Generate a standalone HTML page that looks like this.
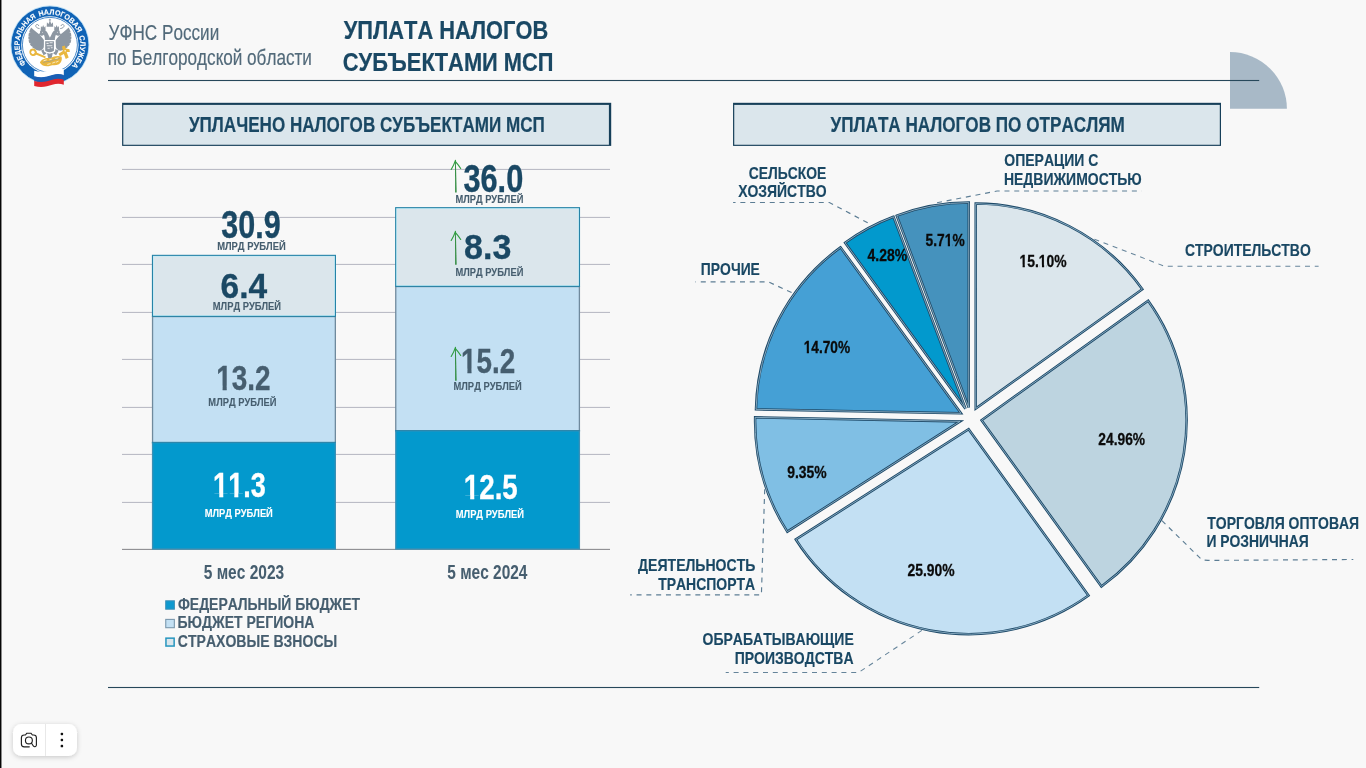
<!DOCTYPE html>
<html lang="ru"><head><meta charset="utf-8"><title>Уплата налогов субъектами МСП</title>
<style>html,body{margin:0;padding:0;background:#f8f8f8;overflow:hidden}body{width:1366px;height:768px;position:relative}svg{display:block;position:absolute;left:0;top:0}text{font-family:"Liberation Sans",sans-serif;font-kerning:none;white-space:pre}</style>
</head><body>
<svg width="1366" height="768" viewBox="0 0 1366 768">
<rect width="1366" height="768" fill="#f8f8f8"/>
<rect x="0" y="0" width="1.45" height="768" fill="#060606"/>
<g id="header">
<path d="M1230 108.8 L1230 52.1 A56.9 56.7 0 0 1 1286.9 108.8 Z" fill="#a8b9c7"/>
<rect x="108" y="79.95" width="1151.2" height="1.1" fill="#27485b"/>
<rect x="108" y="686.95" width="1151.2" height="1.1" fill="#27485b"/>
<text transform="translate(108.54 39.65) scale(0.8051 1)" font-size="21.3" font-weight="400" fill="#526a7a" stroke="#526a7a" stroke-width="0.17">УФНС России</text>
<text transform="translate(107.81 64.65) scale(0.8057 1)" font-size="21.3" font-weight="400" fill="#526a7a" stroke="#526a7a" stroke-width="0.17">по Белгородской области</text>
<text transform="translate(343.69 39.00) scale(0.8212 1)" font-size="26.6" font-weight="700" fill="#1a4864" stroke="#1a4864" stroke-width="0.239">УПЛАТА НАЛОГОВ</text>
<text transform="translate(342.80 70.70) scale(0.8218 1)" font-size="26.6" font-weight="700" fill="#1a4864" stroke="#1a4864" stroke-width="0.239">СУБЪЕКТАМИ МСП</text>
</g>
<g id="logo">
<circle cx="49.9" cy="44.9" r="38.7" fill="#1063b6"/>
<circle cx="49.9" cy="44.9" r="39.0" fill="none" stroke="#7fc4f0" stroke-width="0.8" opacity="0.6"/>
<circle cx="49.9" cy="44.9" r="28.7" fill="#ffffff"/>
<circle cx="49.9" cy="44.9" r="27.5" fill="none" stroke="#1063b6" stroke-width="0.75"/>
<path id="arc0" d="M26.15 63.79 A30.35 30.35 0 0 1 36.12 17.86" fill="none"/>
<text font-size="7.5" font-weight="700" fill="#ffffff" stroke="#ffffff" stroke-width="0.12"><textPath href="#arc0" textLength="53.8" lengthAdjust="spacingAndGlyphs">ФЕДЕРАЛЬНАЯ</textPath></text>
<path id="arc1" d="M39.27 16.47 A30.35 30.35 0 0 1 77.63 32.56" fill="none"/>
<text font-size="7.5" font-weight="700" fill="#ffffff" stroke="#ffffff" stroke-width="0.12"><textPath href="#arc1" textLength="45.8" lengthAdjust="spacingAndGlyphs">НАЛОГОВАЯ</textPath></text>
<path id="arc2" d="M78.92 36.03 A30.35 30.35 0 0 1 71.73 65.98" fill="none"/>
<text font-size="7.5" font-weight="700" fill="#ffffff" stroke="#ffffff" stroke-width="0.12"><textPath href="#arc2" textLength="32.3" lengthAdjust="spacingAndGlyphs">СЛУЖБА</textPath></text>
<g transform="translate(22 14) scale(0.07294)">
<path d="M125 185 C95 235 78 300 92 370 C105 430 160 490 240 503 C270 500 292 480 300 455 L305 365 C285 330 240 280 200 250 C170 228 145 205 125 185 Z" fill="#8d97a2"/>
<path d="M125 185 C95 235 78 300 92 370 C105 430 160 490 240 503 C270 500 292 480 300 455 L305 365 C285 330 240 280 200 250 C170 228 145 205 125 185 Z" fill="#8d97a2" transform="translate(765 0) scale(-1 1)"/>
<path d="M84 244 L120 258 L88 260 Z" fill="#ffffff" opacity="0.85"/>
<path d="M681 244 L645 258 L677 260 Z" fill="#ffffff" opacity="0.85"/>
<path d="M74 294 L110 308 L78 310 Z" fill="#ffffff" opacity="0.85"/>
<path d="M691 294 L655 308 L687 310 Z" fill="#ffffff" opacity="0.85"/>
<path d="M76 344 L112 358 L80 360 Z" fill="#ffffff" opacity="0.85"/>
<path d="M689 344 L653 358 L685 360 Z" fill="#ffffff" opacity="0.85"/>
<path d="M90 394 L126 408 L94 410 Z" fill="#ffffff" opacity="0.85"/>
<path d="M675 394 L639 408 L671 410 Z" fill="#ffffff" opacity="0.85"/>
<path d="M118 439 L154 453 L122 455 Z" fill="#ffffff" opacity="0.85"/>
<path d="M647 439 L611 453 L643 455 Z" fill="#ffffff" opacity="0.85"/>
<path d="M158 472 L194 486 L162 488 Z" fill="#ffffff" opacity="0.85"/>
<path d="M607 472 L571 486 L603 488 Z" fill="#ffffff" opacity="0.85"/>
<path d="M300 285 C285 300 262 300 250 290 L224 280 L248 262 C240 232 262 212 290 214 C320 216 345 245 365 290 L383 325 L383 380 L312 380 C318 345 312 310 300 285 Z" fill="#8d97a2"/>
<path d="M300 285 C285 300 262 300 250 290 L224 280 L248 262 C240 232 262 212 290 214 C320 216 345 245 365 290 L383 325 L383 380 L312 380 C318 345 312 310 300 285 Z" fill="#8d97a2" transform="translate(765 0) scale(-1 1)"/>
<path d="M256 222 L260 166 L276 186 L290 150 L304 186 L320 166 L324 222 Z" fill="#8d97a2"/>
<path d="M256 222 L260 166 L276 186 L290 150 L304 186 L320 166 L324 222 Z" fill="#8d97a2" transform="translate(765 0) scale(-1 1)"/>
<path d="M338 176 L342 112 L362 138 L383 94 L404 138 L424 112 L428 176 Z" fill="#8d97a2"/>
<path d="M377 64 h12 v12 h10 v10 h-10 v16 h-12 v-16 h-10 v-10 h10 Z" fill="#8d97a2"/>
<path d="M383 196 C356 200 348 232 362 258 L383 292 L404 258 C418 232 410 200 383 196 Z" fill="#ffffff"/>
<circle cx="280" cy="250" r="6.5" fill="#ffffff"/><circle cx="485" cy="250" r="6.5" fill="#ffffff"/>
<path d="M236 200 C206 196 182 176 190 154 C198 136 226 140 230 160 M529 200 C559 196 583 176 575 154 C567 136 539 140 535 160" fill="none" stroke="#8d97a2" stroke-width="13" stroke-linecap="round"/>
<path d="M262 500 L322 478 L336 540 L296 566 Z M503 500 L443 478 L429 540 L469 566 Z M344 536 L422 536 L408 600 L383 618 L358 600 Z" fill="#8d97a2"/>
<path d="M300 355 H456 V505 C456 525 420 535 378 545 C336 535 300 525 300 505 Z" fill="#ffffff"/>
<path d="M318 372 H438 V500 C438 512 410 520 378 526 C346 520 318 512 318 500 Z" fill="#8d97a2"/>
<path d="M335 395 h30 v16 h-30 z M378 388 h42 v14 h-42 z M340 430 h76 v12 h-76 z M350 462 h30 v14 h-30 z M396 456 h24 v12 h-24 z" fill="#ffffff" opacity="0.8"/>
<path d="M150 474 C108 474 92 516 108 548 C124 580 170 586 196 560 L318 606 L326 582 L206 532 C200 498 182 474 150 474 Z" fill="#e9b73f"/>
<ellipse cx="150" cy="526" rx="23" ry="25" fill="#ffffff"/>
<path d="M548 446 L586 432 L600 474 L650 484 L656 522 L612 522 L640 596 L600 616 L574 548 L520 580 L500 545 L560 508 Z" fill="#e9b73f"/>
<circle cx="592" cy="505" r="11" fill="#ffffff" opacity="0.85"/>
<path d="M246 668 C262 618 330 596 392 606 C432 578 492 566 540 582 C556 616 540 664 506 690 C462 712 420 696 388 708 C338 724 274 716 246 668 Z" fill="#e9b73f"/>
<path d="M290 668 C330 640 372 664 410 640 C446 620 480 624 520 606" fill="none" stroke="#8d97a2" stroke-width="10" opacity="0.8"/>
<path d="M300 640 l34 -10 M352 690 l34 -8 M420 672 l32 -12 M462 610 l30 -8 M470 660 l26 -12 M380 626 l24 -6" stroke="#ffffff" stroke-width="11" opacity="0.85" fill="none" stroke-linecap="round"/>
</g>
<path d="M34.2 70.70 C41.2 73.00 47.2 71.20 52.2 69.60 C57.2 68.00 60.8 68.60 63.8 69.60 L63.8 75.50 C60.8 74.50 57.2 73.90 52.2 75.50 C47.2 77.10 41.2 78.90 34.2 76.60 Z" fill="#ffffff"/>
<path d="M34.2 76.20 C41.2 78.50 47.2 76.70 52.2 75.10 C57.2 73.50 60.8 74.10 63.8 75.10 L63.8 80.10 C60.8 79.10 57.2 78.50 52.2 80.10 C47.2 81.70 41.2 83.50 34.2 81.20 Z" fill="#1b5fb4"/>
<path d="M34.2 80.90 C41.2 83.20 47.2 81.40 52.2 79.80 C57.2 78.20 60.8 78.80 63.8 79.80 L63.8 84.80 C60.8 83.80 57.2 83.20 52.2 84.80 C47.2 86.40 41.2 88.20 34.2 85.90 Z" fill="#e0262e"/>
</g>
<g id="bars">
<rect x="122.1" y="102.8" width="489.10" height="43.1" fill="#163f59"/>
<rect x="123.3" y="104.9" width="485.60" height="39.85" fill="#dbe6ec"/>
<text transform="translate(188.89 131.80) scale(0.8066 1)" font-size="21.2" font-weight="700" fill="#1a4864" stroke="#1a4864" stroke-width="0.191">УПЛАЧЕНО НАЛОГОВ СУБЪЕКТАМИ МСП</text>
<rect x="122" y="168.90" width="488" height="1.1" fill="#bbbcc6"/>
<rect x="122" y="216.90" width="488" height="1.1" fill="#bbbcc6"/>
<rect x="122" y="263.90" width="488" height="1.1" fill="#bbbcc6"/>
<rect x="122" y="311.90" width="488" height="1.1" fill="#bbbcc6"/>
<rect x="122" y="358.90" width="488" height="1.1" fill="#bbbcc6"/>
<rect x="122" y="406.90" width="488" height="1.1" fill="#bbbcc6"/>
<rect x="122" y="453.90" width="488" height="1.1" fill="#bbbcc6"/>
<rect x="122" y="501.90" width="488" height="1.1" fill="#bbbcc6"/>
<rect x="122" y="548.85" width="488" height="1.1" fill="#8c8c90"/>
<rect x="151.90" y="315.90" width="184.10" height="128.00" fill="#6f8a9d"/>
<rect x="153.20" y="317.20" width="181.50" height="125.40" fill="#c3e0f3"/>
<rect x="151.90" y="441.90" width="184.10" height="107.80" fill="#3a90b6"/>
<rect x="153.25" y="443.25" width="181.40" height="105.10" fill="#0399cd"/>
<rect x="151.90" y="441.90" width="184.10" height="1.0" fill="#2d86aa"/>
<rect x="151.90" y="254.80" width="184.10" height="62.10" fill="#2783a7"/>
<rect x="153.00" y="255.90" width="181.90" height="59.90" fill="#b4ecfa"/>
<rect x="153.55" y="256.45" width="180.80" height="58.80" fill="#dbe6ec"/>
<rect x="395.10" y="285.90" width="184.95" height="146.15" fill="#6f8a9d"/>
<rect x="396.40" y="287.20" width="182.35" height="143.55" fill="#c3e0f3"/>
<rect x="395.10" y="430.05" width="184.95" height="119.65" fill="#3a90b6"/>
<rect x="396.45" y="431.40" width="182.25" height="116.95" fill="#0399cd"/>
<rect x="395.10" y="430.05" width="184.95" height="1.0" fill="#2d86aa"/>
<rect x="395.10" y="207.10" width="184.95" height="79.80" fill="#2783a7"/>
<rect x="396.20" y="208.20" width="182.75" height="77.60" fill="#b4ecfa"/>
<rect x="396.75" y="208.75" width="181.65" height="76.50" fill="#dbe6ec"/>
<text transform="translate(221.20 237.70) scale(0.7830 1)" font-size="39" font-weight="700" fill="#1a4864" stroke="#1a4864" stroke-width="0.351">30.9</text>
<text transform="translate(217.17 249.80) scale(0.8123 1)" font-size="11.6" font-weight="700" fill="#465e6f" stroke="#465e6f" stroke-width="0.104">МЛРД РУБЛЕЙ</text>
<text transform="translate(220.47 297.80) scale(0.9465 1)" font-size="35.5" font-weight="700" fill="#1a4864" stroke="#1a4864" stroke-width="0.319">6.4</text>
<text transform="translate(212.77 309.80) scale(0.8086 1)" font-size="11.6" font-weight="700" fill="#465e6f" stroke="#465e6f" stroke-width="0.104">МЛРД РУБЛЕЙ</text>
<clipPath id="c1"><rect x="-35.50" y="-39.05" width="140.09" height="35.11"/><rect x="-35.50" y="-39.05" width="36.21" height="53.25"/><rect x="8.13" y="-39.05" width="5.19" height="53.25"/><rect x="19.57" y="-39.05" width="85.03" height="53.25"/></clipPath>
<text transform="translate(216.24 389.80) scale(0.7855 1)" font-size="35.5" font-weight="700" fill="#465e6f" stroke="#465e6f" stroke-width="0.319" clip-path="url(#c1)">13.2</text>
<text transform="translate(208.37 405.80) scale(0.8062 1)" font-size="11.6" font-weight="700" fill="#465e6f" stroke="#465e6f" stroke-width="0.104">МЛРД РУБЛЕЙ</text>
<clipPath id="c2"><rect x="-35.50" y="-39.05" width="140.09" height="35.11"/><rect x="-35.50" y="-39.05" width="36.21" height="53.25"/><rect x="8.13" y="-39.05" width="5.19" height="53.25"/><rect x="19.57" y="-39.05" width="0.89" height="53.25"/><rect x="27.87" y="-39.05" width="5.19" height="53.25"/><rect x="39.31" y="-39.05" width="65.28" height="53.25"/></clipPath>
<text transform="translate(213.10 497.20) scale(0.7625 1)" font-size="35.5" font-weight="700" fill="#ffffff" stroke="#ffffff" stroke-width="0.319" clip-path="url(#c2)">11.3</text>
<text transform="translate(204.67 517.00) scale(0.8074 1)" font-size="11.6" font-weight="700" fill="#ffffff" stroke="#ffffff" stroke-width="0.104">МЛРД РУБЛЕЙ</text>
<text transform="translate(463.39 191.80) scale(0.7887 1)" font-size="39" font-weight="700" fill="#1a4864" stroke="#1a4864" stroke-width="0.351">36.0</text>
<text transform="translate(455.38 203.00) scale(0.8050 1)" font-size="11.6" font-weight="700" fill="#465e6f" stroke="#465e6f" stroke-width="0.104">МЛРД РУБЛЕЙ</text>
<text transform="translate(464.12 258.90) scale(0.9587 1)" font-size="35.5" font-weight="700" fill="#1a4864" stroke="#1a4864" stroke-width="0.319">8.3</text>
<text transform="translate(455.38 275.75) scale(0.8050 1)" font-size="11.6" font-weight="700" fill="#465e6f" stroke="#465e6f" stroke-width="0.104">МЛРД РУБЛЕЙ</text>
<clipPath id="c3"><rect x="-35.50" y="-39.05" width="140.09" height="35.11"/><rect x="-35.50" y="-39.05" width="36.21" height="53.25"/><rect x="8.13" y="-39.05" width="5.19" height="53.25"/><rect x="19.57" y="-39.05" width="85.03" height="53.25"/></clipPath>
<text transform="translate(461.05 372.80) scale(0.7840 1)" font-size="35.5" font-weight="700" fill="#465e6f" stroke="#465e6f" stroke-width="0.319" clip-path="url(#c3)">15.2</text>
<text transform="translate(453.47 389.70) scale(0.8092 1)" font-size="11.6" font-weight="700" fill="#465e6f" stroke="#465e6f" stroke-width="0.104">МЛРД РУБЛЕЙ</text>
<clipPath id="c4"><rect x="-35.50" y="-39.05" width="140.09" height="35.11"/><rect x="-35.50" y="-39.05" width="36.21" height="53.25"/><rect x="8.13" y="-39.05" width="5.19" height="53.25"/><rect x="19.57" y="-39.05" width="85.03" height="53.25"/></clipPath>
<text transform="translate(463.86 499.20) scale(0.7803 1)" font-size="35.5" font-weight="700" fill="#ffffff" stroke="#ffffff" stroke-width="0.319" clip-path="url(#c4)">12.5</text>
<text transform="translate(455.77 518.00) scale(0.8074 1)" font-size="11.6" font-weight="700" fill="#ffffff" stroke="#ffffff" stroke-width="0.104">МЛРД РУБЛЕЙ</text>
<path d="M455.05 160.50 L455.85 160.50 L456.65 192.60 L455.15 192.60 Z" fill="#2d8a3c"/>
<path d="M451.20 169.50 Q453.90 165.20 455.45 160.40 M455.70 161.80 Q458.10 164.40 460.70 168.50" fill="none" stroke="#2f9e3f" stroke-width="1.15" stroke-linecap="round"/>
<path d="M455.05 231.50 L455.85 231.50 L456.65 264.80 L455.15 264.80 Z" fill="#2d8a3c"/>
<path d="M451.20 240.50 Q453.90 236.20 455.45 231.40 M455.70 232.80 Q458.10 235.40 460.70 239.50" fill="none" stroke="#2f9e3f" stroke-width="1.15" stroke-linecap="round"/>
<path d="M455.05 347.50 L455.85 347.50 L456.65 380.80 L455.15 380.80 Z" fill="#2d8a3c"/>
<path d="M451.20 356.50 Q453.90 352.20 455.45 347.40 M455.70 348.80 Q458.10 351.40 460.70 355.50" fill="none" stroke="#2f9e3f" stroke-width="1.15" stroke-linecap="round"/>
<text transform="translate(203.72 579.10) scale(0.8033 1)" font-size="19.3" font-weight="700" fill="#465e6f" stroke="#465e6f" stroke-width="0.039">5 мес 2023</text>
<text transform="translate(447.32 579.10) scale(0.8005 1)" font-size="19.3" font-weight="700" fill="#465e6f" stroke="#465e6f" stroke-width="0.039">5 мес 2024</text>
<rect x="165.7" y="600.80" width="8.7" height="8.4" fill="#0e99cf" stroke="#3e8fb6" stroke-width="1"/>
<text transform="translate(177.92 610.00) scale(0.8118 1)" font-size="17.2" font-weight="700" fill="#465e6f" stroke="#465e6f" stroke-width="0.155">ФЕДЕРАЛЬНЫЙ БЮДЖЕТ</text>
<rect x="165.75" y="619.40" width="8.6" height="8.3" fill="#c3e0f3" stroke="#7a98ad" stroke-width="1.1"/>
<text transform="translate(177.46 628.45) scale(0.8158 1)" font-size="17.2" font-weight="700" fill="#465e6f" stroke="#465e6f" stroke-width="0.155">БЮДЖЕТ РЕГИОНА</text>
<rect x="165.95" y="638.15" width="8.2" height="7.9" fill="#dbe6ec" stroke="#2796bf" stroke-width="1.5"/>
<text transform="translate(177.82 646.90) scale(0.8167 1)" font-size="17.2" font-weight="700" fill="#465e6f" stroke="#465e6f" stroke-width="0.155">СТРАХОВЫЕ ВЗНОСЫ</text>
</g>
<g id="pie">
<rect x="733.05" y="102.8" width="487.95" height="43.1" fill="#163f59"/>
<rect x="734.25" y="104.9" width="485.55" height="39.85" fill="#dbe6ec"/>
<text transform="translate(830.49 131.80) scale(0.8094 1)" font-size="21.2" font-weight="700" fill="#1a4864" stroke="#1a4864" stroke-width="0.191">УПЛАТА НАЛОГОВ ПО ОТРАСЛЯМ</text>
<path d="M975.72 408.61 L975.72 203.61 A205.0 205.0 0 0 1 1142.33 289.16 Z" fill="#dbe6ec" stroke="#1c4867" stroke-width="2.5" stroke-linejoin="miter"/>
<path d="M975.72 408.61 L975.72 203.61 A205.0 205.0 0 0 1 1142.33 289.16 Z" fill="none" stroke="#9dbfd3" stroke-width="0.8" stroke-linejoin="miter"/>
<path d="M981.56 420.18 L1148.16 300.72 A205.0 205.0 0 0 1 1101.43 586.48 Z" fill="#bdd4e0" stroke="#1c4867" stroke-width="2.5" stroke-linejoin="miter"/>
<path d="M981.56 420.18 L1148.16 300.72 A205.0 205.0 0 0 1 1101.43 586.48 Z" fill="none" stroke="#9dbfd3" stroke-width="0.8" stroke-linejoin="miter"/>
<path d="M968.63 429.20 L1088.50 595.51 A205.0 205.0 0 0 1 795.82 539.48 Z" fill="#c3e0f3" stroke="#1c4867" stroke-width="2.5" stroke-linejoin="miter"/>
<path d="M968.63 429.20 L1088.50 595.51 A205.0 205.0 0 0 1 795.82 539.48 Z" fill="none" stroke="#9dbfd3" stroke-width="0.8" stroke-linejoin="miter"/>
<path d="M960.11 421.38 L787.30 531.66 A205.0 205.0 0 0 1 755.15 417.39 Z" fill="#80bfe4" stroke="#1c4867" stroke-width="2.5" stroke-linejoin="miter"/>
<path d="M960.11 421.38 L787.30 531.66 A205.0 205.0 0 0 1 755.15 417.39 Z" fill="none" stroke="#9dbfd3" stroke-width="0.8" stroke-linejoin="miter"/>
<path d="M960.95 413.31 L755.99 409.32 A205.0 205.0 0 0 1 840.56 247.38 Z" fill="#45a0d5" stroke="#1c4867" stroke-width="2.5" stroke-linejoin="miter"/>
<path d="M960.95 413.31 L755.99 409.32 A205.0 205.0 0 0 1 840.56 247.38 Z" fill="none" stroke="#9dbfd3" stroke-width="0.8" stroke-linejoin="miter"/>
<path d="M965.49 408.71 L845.10 242.79 A205.0 205.0 0 0 1 893.51 216.76 Z" fill="#0299cd" stroke="#1c4867" stroke-width="2.5" stroke-linejoin="miter"/>
<path d="M965.49 408.71 L845.10 242.79 A205.0 205.0 0 0 1 893.51 216.76 Z" fill="none" stroke="#9dbfd3" stroke-width="0.8" stroke-linejoin="miter"/>
<path d="M968.74 407.58 L896.76 215.63 A205.0 205.0 0 0 1 968.74 202.58 Z" fill="#4592bd" stroke="#1c4867" stroke-width="2.5" stroke-linejoin="miter"/>
<path d="M968.74 407.58 L896.76 215.63 A205.0 205.0 0 0 1 968.74 202.58 Z" fill="none" stroke="#9dbfd3" stroke-width="0.8" stroke-linejoin="miter"/>
<polyline points="867.7,222.8 829.4,202.5 733.1,202.5" fill="none" stroke="#5c7d94" stroke-width="1.15" stroke-dasharray="5 4.8"/>
<polyline points="791.6,292.6 768.3,281.8 695.5,281.8" fill="none" stroke="#5c7d94" stroke-width="1.15" stroke-dasharray="5 4.8"/>
<polyline points="937,202.7 997,191 1141.8,191" fill="none" stroke="#5d7e95" stroke-width="1.15" stroke-dasharray="5 4.8"/>
<polyline points="1094.4,239.2 1164.7,266.3 1318.6,266.3" fill="none" stroke="#65849a" stroke-width="1.05" stroke-dasharray="5 4.8"/>
<polyline points="1161.9,520.6 1201.9,559.9 1208,560.4 1353.3,559.5" fill="none" stroke="#5c7d94" stroke-width="1.15" stroke-dasharray="5 4.8"/>
<polyline points="764.7,489.3 761.4,594.8 630.2,594.8" fill="none" stroke="#5c7d94" stroke-width="1.15" stroke-dasharray="5 4.8"/>
<polyline points="921.9,630.4 858.8,672.4 725.7,672.4" fill="none" stroke="#65849a" stroke-width="1.05" stroke-dasharray="5 4.8"/>
<text transform="translate(748.73 178.60) scale(0.8030 1)" font-size="17.3" font-weight="700" fill="#1a4864" stroke="#1a4864" stroke-width="0.156">СЕЛЬСКОЕ</text>
<text transform="translate(738.18 196.50) scale(0.8058 1)" font-size="17.3" font-weight="700" fill="#1a4864" stroke="#1a4864" stroke-width="0.156">ХОЗЯЙСТВО</text>
<text transform="translate(700.87 274.90) scale(0.8031 1)" font-size="17.3" font-weight="700" fill="#1a4864" stroke="#1a4864" stroke-width="0.156">ПРОЧИЕ</text>
<text transform="translate(1004.33 165.60) scale(0.8090 1)" font-size="17.3" font-weight="700" fill="#1a4864" stroke="#1a4864" stroke-width="0.156">ОПЕРАЦИИ С</text>
<text transform="translate(1003.96 184.60) scale(0.8081 1)" font-size="17.3" font-weight="700" fill="#1a4864" stroke="#1a4864" stroke-width="0.156">НЕДВИЖИМОСТЬЮ</text>
<text transform="translate(1184.93 256.30) scale(0.8058 1)" font-size="17.3" font-weight="700" fill="#1a4864" stroke="#1a4864" stroke-width="0.156">СТРОИТЕЛЬСТВО</text>
<text transform="translate(1207.24 529.00) scale(0.8083 1)" font-size="17.3" font-weight="700" fill="#1a4864" stroke="#1a4864" stroke-width="0.156">ТОРГОВЛЯ ОПТОВАЯ</text>
<text transform="translate(1206.48 547.00) scale(0.8030 1)" font-size="17.3" font-weight="700" fill="#1a4864" stroke="#1a4864" stroke-width="0.156">И РОЗНИЧНАЯ</text>
<text transform="translate(638.08 571.10) scale(0.8124 1)" font-size="17.3" font-weight="700" fill="#1a4864" stroke="#1a4864" stroke-width="0.156">ДЕЯТЕЛЬНОСТЬ</text>
<text transform="translate(658.14 589.90) scale(0.8089 1)" font-size="17.3" font-weight="700" fill="#1a4864" stroke="#1a4864" stroke-width="0.156">ТРАНСПОРТА</text>
<text transform="translate(702.53 644.80) scale(0.8101 1)" font-size="17.3" font-weight="700" fill="#1a4864" stroke="#1a4864" stroke-width="0.156">ОБРАБАТЫВАЮЩИЕ</text>
<text transform="translate(734.66 663.70) scale(0.8094 1)" font-size="17.3" font-weight="700" fill="#1a4864" stroke="#1a4864" stroke-width="0.156">ПРОИЗВОДСТВА</text>
<clipPath id="c5"><rect x="-17.00" y="-18.70" width="91.66" height="16.66"/><rect x="-17.00" y="-18.70" width="17.34" height="25.50"/><rect x="3.81" y="-18.70" width="2.64" height="25.50"/><rect x="9.37" y="-18.70" width="14.60" height="25.50"/><rect x="27.45" y="-18.70" width="2.64" height="25.50"/><rect x="33.00" y="-18.70" width="41.66" height="25.50"/></clipPath>
<text transform="translate(1019.52 266.80) scale(0.8176 1)" font-size="17.0" font-weight="700" fill="#0a0a0a" stroke="#0a0a0a" stroke-width="0.306" clip-path="url(#c5)">15.10%</text>
<text transform="translate(1098.32 444.90) scale(0.8107 1)" font-size="17.0" font-weight="700" fill="#0a0a0a" stroke="#0a0a0a" stroke-width="0.306">24.96%</text>
<text transform="translate(907.52 575.50) scale(0.8177 1)" font-size="17.0" font-weight="700" fill="#0a0a0a" stroke="#0a0a0a" stroke-width="0.306">25.90%</text>
<text transform="translate(787.22 478.10) scale(0.8184 1)" font-size="17.0" font-weight="700" fill="#0a0a0a" stroke="#0a0a0a" stroke-width="0.306">9.35%</text>
<clipPath id="c6"><rect x="-17.00" y="-18.70" width="91.66" height="16.66"/><rect x="-17.00" y="-18.70" width="17.34" height="25.50"/><rect x="3.81" y="-18.70" width="2.64" height="25.50"/><rect x="9.37" y="-18.70" width="65.29" height="25.50"/></clipPath>
<text transform="translate(803.74 352.70) scale(0.8052 1)" font-size="17.0" font-weight="700" fill="#0a0a0a" stroke="#0a0a0a" stroke-width="0.306" clip-path="url(#c6)">14.70%</text>
<text transform="translate(867.49 260.75) scale(0.8211 1)" font-size="17.0" font-weight="700" fill="#0a0a0a" stroke="#0a0a0a" stroke-width="0.306">4.28%</text>
<clipPath id="c7"><rect x="-17.00" y="-18.70" width="82.20" height="16.66"/><rect x="-17.00" y="-18.70" width="40.97" height="25.50"/><rect x="27.45" y="-18.70" width="2.64" height="25.50"/><rect x="33.00" y="-18.70" width="32.20" height="25.50"/></clipPath>
<text transform="translate(925.58 246.00) scale(0.8109 1)" font-size="17.0" font-weight="700" fill="#0a0a0a" stroke="#0a0a0a" stroke-width="0.306" clip-path="url(#c7)">5.71%</text>
</g>
<g id="widget">
<defs><filter id="sh" x="-40%" y="-60%" width="180%" height="240%"><feDropShadow dx="0" dy="1.2" stdDeviation="2.8" flood-color="#000" flood-opacity="0.2"/></filter></defs>
<rect x="13" y="724" width="64" height="31.9" rx="8.5" fill="#ffffff" filter="url(#sh)"/>
<rect x="45.0" y="724" width="0.9" height="31.9" fill="#e6e6e6"/>
<g fill="none" stroke="#1f1f1f" stroke-width="1.15" stroke-linecap="round" stroke-linejoin="round">
<path d="M29.3 746.8 H24.2 a2.8 2.8 0 0 1 -2.8 -2.8 V737.8 a2.8 2.8 0 0 1 2.8 -2.8 h1.2 l1.5 -1.8 h4.0 l1.5 1.8 h1.2 a2.8 2.8 0 0 1 2.8 2.8 V745 a1.7 1.7 0 0 1 -2.9 1.2 L31.4 743.0"/>
<circle cx="28.9" cy="740.4" r="3.45"/>
</g>
<rect x="60.65" y="732.70" width="2.5" height="2.5" rx="0.9" fill="#111111"/>
<rect x="60.65" y="738.75" width="2.5" height="2.5" rx="0.9" fill="#111111"/>
<rect x="60.65" y="744.80" width="2.5" height="2.5" rx="0.9" fill="#111111"/>
</g>
</svg></body></html>
